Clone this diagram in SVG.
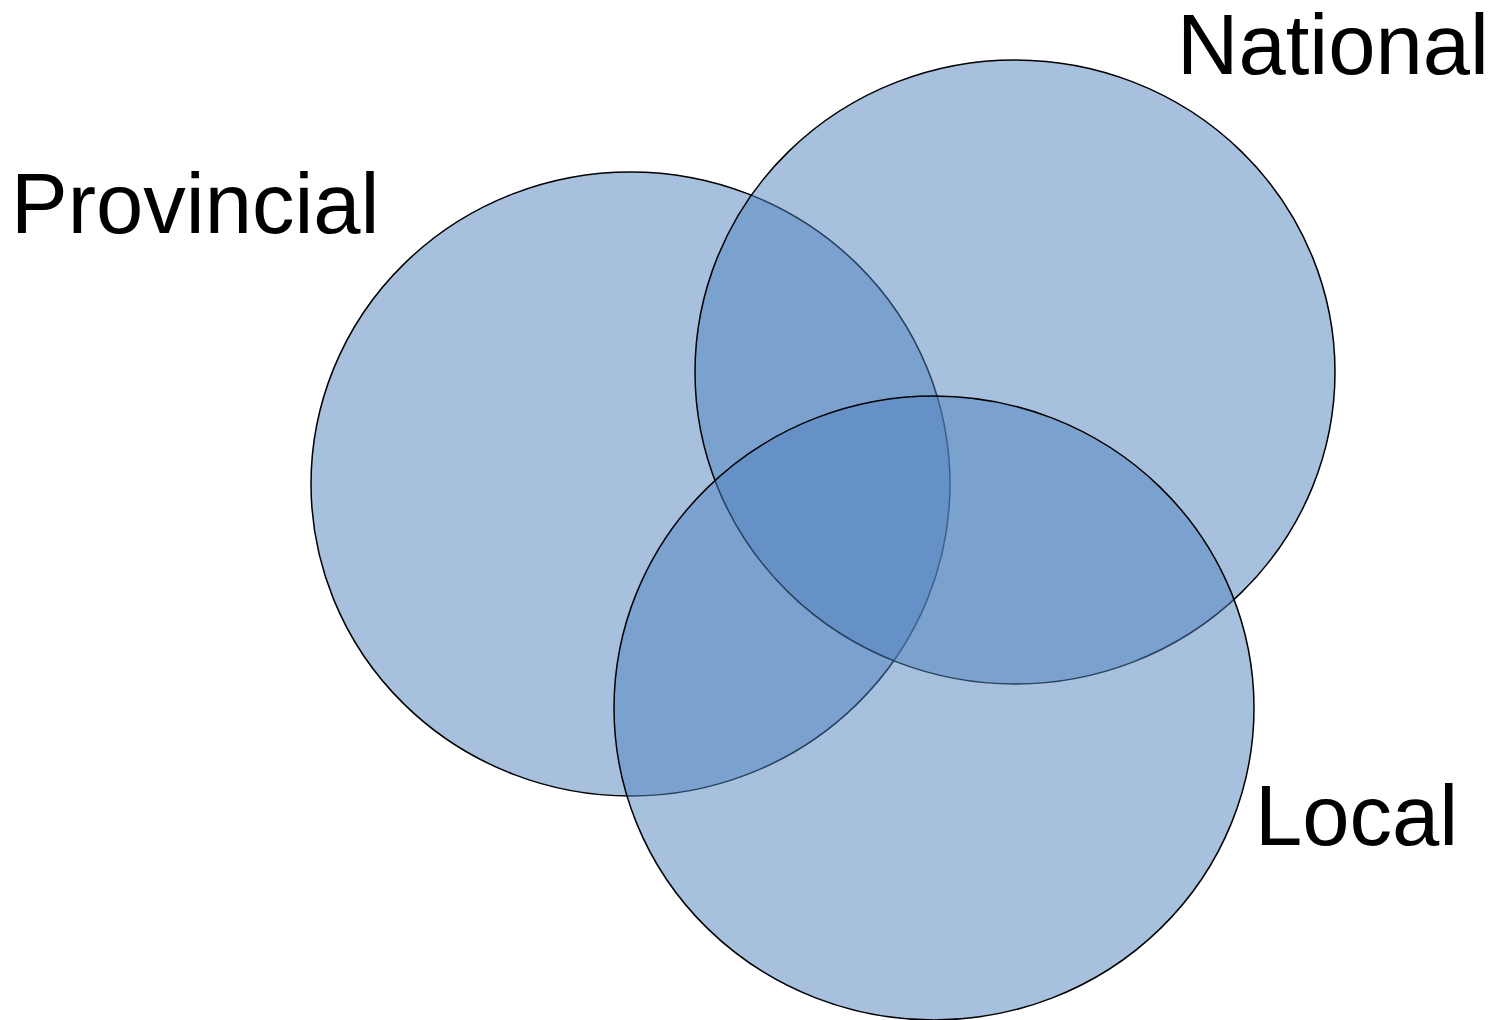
<svg xmlns="http://www.w3.org/2000/svg" width="1498" height="1020" viewBox="0 0 1498 1020">
<style>
.c{fill:#4F81BD;fill-opacity:0.5;stroke:#000;stroke-width:1.5}
.t{font-family:"Liberation Sans",Arial,sans-serif;font-size:85px;fill:#000}
</style>
<rect width="1498" height="1020" fill="#fff"/>
<g id="provincial"><ellipse class="c" cx="630.5" cy="484" rx="319.5" ry="312"/></g>
<g id="national"><ellipse class="c" cx="1015" cy="372" rx="320" ry="312"/></g>
<g id="local"><ellipse class="c" cx="934" cy="708" rx="320" ry="312"/></g>
<g id="labels">
<text class="t" x="1177" y="74">National</text>
<text class="t" x="11" y="233">Provincial</text>
<text class="t" x="1255" y="845">Local</text>
</g>
<g id="connectors"/>
</svg>
